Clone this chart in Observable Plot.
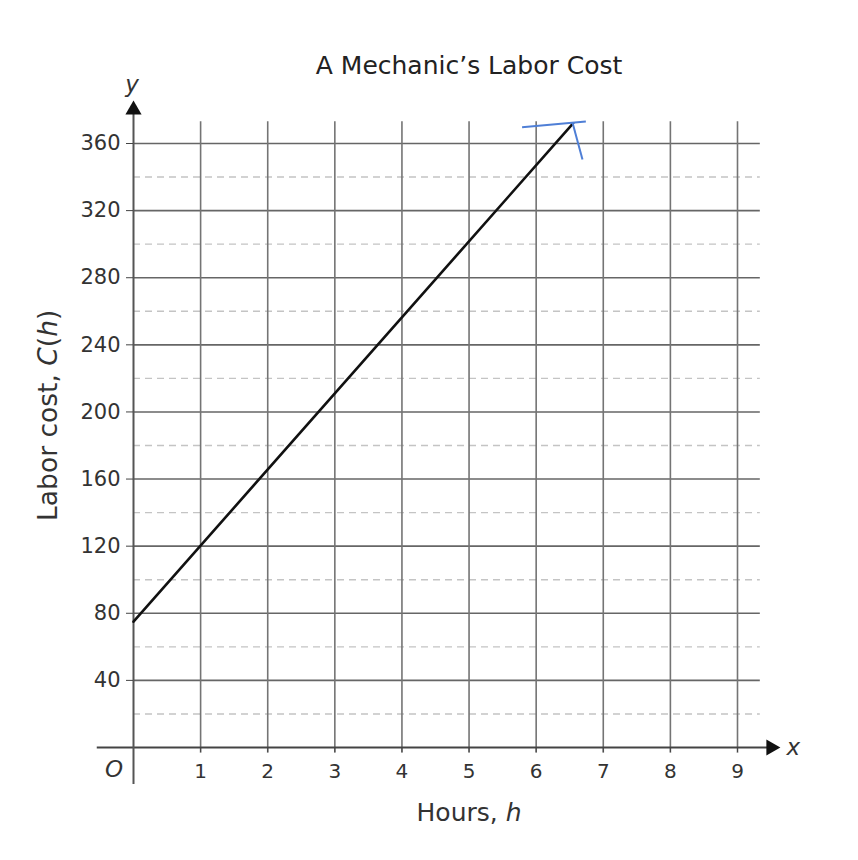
<!DOCTYPE html>
<html>
<head>
<meta charset="utf-8">
<script src="https://cdn.jsdelivr.net/npm/d3@7"></script>
<script src="https://cdn.jsdelivr.net/npm/@observablehq/plot@0.6"></script>
<style>
  html, body { margin: 0; padding: 0; background: #fff; }
  svg { font-family: "DejaVu Sans", Verdana, sans-serif; }
</style>
</head>
<body>
<div id="chart"></div>
<script>
// ---- data ----
const title = "A Mechanic\u2019s Labor Cost";
const xTicks = [1, 2, 3, 4, 5, 6, 7, 8, 9];
const yTicks = [40, 80, 120, 160, 200, 240, 280, 320, 360];
const yMinor = [20, 60, 100, 140, 180, 220, 260, 300, 340];
const hours = [0, 6.55];
const cost = [75, 372];
// hand-drawn blue marks (two strokes)
const blueX1 = [5.79, 6.54];
const blueY1 = [369.7, 372.7];
const blueX2 = [6.74, 6.69];
const blueY2 = [373.1, 350.5];

const lineData = hours.map((h, i) => ({h, c: cost[i]}));
const blueData = blueX1.map((x, i) => ({x1: x, y1: blueY1[i], x2: blueX2[i], y2: blueY2[i]}));

const gridRight = 9.34, gridTop = 373;
const axisLeft = -0.54, axisRight = 9.5, axisBottom = -22, axisTop = 378;

const plot = Plot.plot({
  width: 858,
  height: 860,
  marginLeft: 133,
  marginBottom: 113,
  marginTop: 0,
  marginRight: 0,
  x: {domain: [0, 9], range: [133, 737]},
  y: {domain: [0, 360], range: [747, 143]},
  marks: [
    // minor dashed horizontal lines
    Plot.ruleY(yMinor, {x1: 0, x2: gridRight, stroke: "#c4c4c4", strokeWidth: 1.4, strokeDasharray: "7,5"}),
    // major horizontal lines
    Plot.ruleY(yTicks, {x1: 0, x2: gridRight, stroke: "#666", strokeWidth: 1.6}),
    // vertical grid lines
    Plot.ruleX(xTicks, {y1: -3.5, y2: gridTop, stroke: "#747474", strokeWidth: 1.6}),
    // axes lines
    Plot.ruleY([0], {x1: axisLeft, x2: axisRight, stroke: "#444", strokeWidth: 2}),
    Plot.ruleX([0], {y1: axisBottom, y2: axisTop, stroke: "#555", strokeWidth: 2}),
    Plot.dot([0], {x: d => axisRight, y: 0, symbol: "triangle", r: 6, fill: "#111", stroke: "none", rotate: 90}),
    Plot.dot([0], {x: 0, y: d => axisTop + 2, symbol: "triangle", r: 6, fill: "#111", stroke: "none"}),
    // ticks and labels
    Plot.axisY({ticks: yTicks, tickSize: 7, tickPadding: 6, fontSize: 21, label: null, stroke: "#444", color: "#333"}),
    Plot.axisX({ticks: xTicks, tickSize: 5, tickPadding: 11, fontSize: 20, label: null, stroke: "#444", color: "#333"}),
    // the cost line
    Plot.line(lineData, {x: "h", y: "c", stroke: "#111", strokeWidth: 2.6}),
    // blue hand-drawn marks
    Plot.link(blueData, {x1: "x1", y1: "y1", x2: "x2", y2: "y2", stroke: "#4f7fd6", strokeWidth: 2}),
    // labels
    Plot.text([title], {x: 5, y: 406, fontSize: 25, fill: "#222"}),
    Plot.text(["O"], {x: -0.29, y: -13, fontSize: 23, fontStyle: "italic", fill: "#333"}),
    Plot.text(["x"], {x: 9.83, y: 0, fontSize: 23, fontStyle: "italic", fill: "#333"}),
    Plot.text(["y"], {x: -0.02, y: 395, fontSize: 23, fontStyle: "italic", fill: "#333"}),
    Plot.text(["Hours, |h"], {x: 5, y: -39, fontSize: 25, fill: "#333", className: "mixlab"}),
    Plot.text(["Labor cost, |C(h)"], {x: -1.26, y: 198, fontSize: 26.5, rotate: -90, fill: "#333", className: "mixlab"})
  ]
});

// mixed upright/italic labels
d3.select(plot).selectAll(".mixlab text").each(function() {
  const t = d3.select(this);
  const s = t.text();
  const [plain, rest] = s.split("|");
  t.text(null);
  t.append("tspan").text(plain);
  if (rest.startsWith("C(")) {
    t.append("tspan").attr("font-style", "italic").text("C");
    t.append("tspan").text("(");
    t.append("tspan").attr("font-style", "italic").text("h");
    t.append("tspan").text(")");
  } else {
    t.append("tspan").attr("font-style", "italic").text(rest);
  }
});

document.getElementById("chart").appendChild(plot);
</script>
</body>
</html>
